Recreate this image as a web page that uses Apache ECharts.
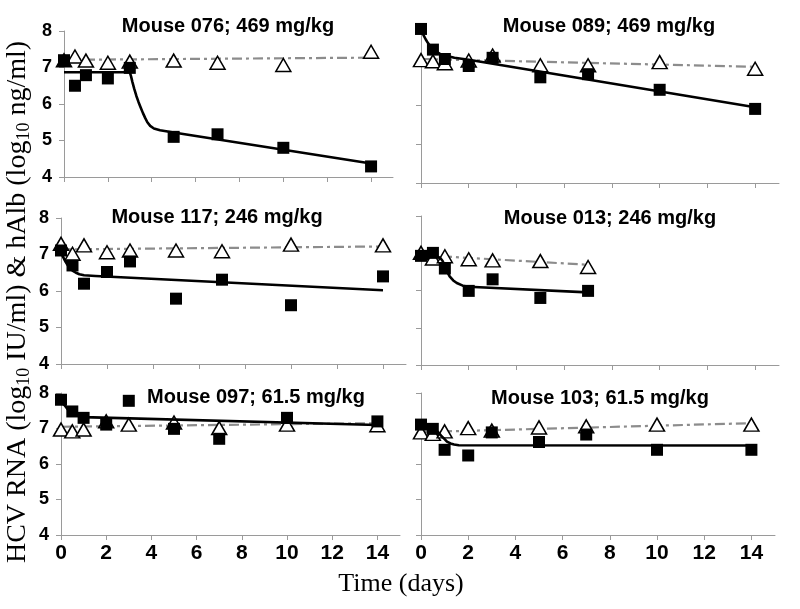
<!DOCTYPE html>
<html><head><meta charset="utf-8">
<script src="https://cdn.jsdelivr.net/npm/echarts@6/dist/echarts.min.js"></script>
<style>html,body{margin:0;padding:0;background:#fff}#c{width:800px;height:609px}</style>
</head><body><div id="c"></div>
<script>
// ---- data ----
const days = [0, 0.5, 1, 2, 3, 5, 7, 10, 14];
const days013 = [0, 0.5, 1, 2, 3, 5, 7];
const xTickLabels = [0, 2, 4, 6, 8, 10, 12, 14];
const yTickLabels = [4, 5, 6, 7, 8];
const titles = ['Mouse 076; 469 mg/kg', 'Mouse 089; 469 mg/kg', 'Mouse 117; 246 mg/kg',
                'Mouse 013; 246 mg/kg', 'Mouse 097; 61.5 mg/kg', 'Mouse 103; 61.5 mg/kg'];

const hcv076 = [7.2, 6.5, 6.79, 6.7, 6.99, 5.1, 5.17, 4.8, 4.29];
const alb076 = [7.2, 7.3, 7.19, 7.13, 7.16, 7.19, 7.13, 7.07, 7.43];
const fit076 = [[0,6.87],[3,6.87],[3.06,6.75],[3.12,6.6],[3.2,6.42],[3.3,6.22],[3.4,6.05],[3.5,5.9],[3.6,5.75],[3.7,5.62],[3.8,5.5],[3.93,5.4],[4.1,5.33],[4.38,5.28],[5,5.22],[14,4.37]];
const trend076 = [[0,7.21],[14,7.27]];

const hcv089 = [7.95, 7.42, 7.18, 7.0, 7.21, 6.71, 6.79, 6.39, 5.9];
const alb089 = [7.15, 7.12, 7.07, 7.14, 7.27, 7.02, 7.02, 7.1, 6.93];
const fit089 = [[0,7.95],[0.1,7.8],[0.2,7.68],[0.3,7.58],[0.4,7.5],[0.5,7.43],[0.6,7.38],[0.8,7.31],[1,7.27],[1.4,7.21],[2,7.16],[14,5.94]];
const trend089 = [[0,7.18],[14,6.98]];

const hcv117 = [7.11, 6.7, 6.2, 6.52, 6.81, 5.79, 6.31, 5.61, 6.4];
const alb117 = [7.29, 7.02, 7.25, 7.06, 7.11, 7.11, 7.09, 7.27, 7.25];
const fit117 = [[0,7.1],[0.05,7.0],[0.1,6.92],[0.2,6.8],[0.3,6.7],[0.4,6.62],[0.5,6.56],[0.65,6.5],[0.8,6.46],[1,6.43],[1.5,6.41],[14,6.02]];
const trend117 = [[0,7.14],[14,7.22]];

const hcv013 = [6.93, 7.01, 6.59, 5.99, 6.3, 5.8, 5.99];
const alb013 = [7.01, 6.86, 6.92, 6.84, 6.81, 6.79, 6.63];
const fit013 = [[0,6.96],[0.5,6.95],[0.8,6.88],[0.9,6.8],[1,6.66],[1.1,6.5],[1.2,6.38],[1.35,6.27],[1.5,6.2],[1.75,6.13],[2,6.1],[7,5.95]];
const trend013 = [[0,6.95],[7,6.69]];

const hcv097 = [7.81, 7.48, 7.3, 7.11, 7.78, 6.99, 6.71, 7.3, 7.2];
const alb097 = [6.97, 6.92, 6.97, 7.2, 7.11, 7.17, 7.01, 7.11, 7.09];
const fit097 = [[0,7.8],[0.1,7.7],[0.2,7.62],[0.3,7.54],[0.4,7.48],[0.5,7.43],[0.6,7.4],[0.8,7.35],[1,7.32],[14,7.1]];
const trend097 = [[0,7.05],[14,7.15]];

const hcv103 = [7.11, 6.99, 6.4, 6.24, 6.89, 6.62, 6.83, 6.4, 6.4];
const alb103 = [6.89, 6.85, 6.92, 7.01, 6.94, 7.03, 7.06, 7.11, 7.11];
const fit103 = [[0,7.1],[0.5,7.0],[0.65,6.94],[0.75,6.88],[0.85,6.8],[1,6.7],[1.1,6.63],[1.25,6.58],[1.4,6.55],[1.6,6.53],[14,6.52]];
const trend103 = [[0,6.9],[14,7.15]];

// ---- layout ----
const panels = [
  {grid:{left:64, top:31, width:329, height:146}, x:days,    hcv:hcv076, alb:alb076, fit:fit076, trend:trend076, t:[228,26]},
  {grid:{left:421,top:27, width:358, height:156}, x:days,    hcv:hcv089, alb:alb089, fit:fit089, trend:trend089, t:[609,26]},
  {grid:{left:61, top:218,width:345, height:146}, x:days,    hcv:hcv117, alb:alb117, fit:fit117, trend:trend117, t:[217,217]},
  {grid:{left:421,top:216,width:358, height:149}, x:days013, hcv:hcv013, alb:alb013, fit:fit013, trend:trend013, t:[610,218]},
  {grid:{left:61, top:393,width:339, height:142}, x:days,    hcv:hcv097, alb:alb097, fit:fit097, trend:trend097, t:[256,397]},
  {grid:{left:421,top:393,width:354, height:142}, x:days,    hcv:hcv103, alb:alb103, fit:fit103, trend:trend103, t:[600,398]}
];
const SANS = '"Liberation Sans", Arial, sans-serif';
const SERIF = '"Liberation Serif", "Times New Roman", serif';
const axisGray = '#9a9a9a';

const grid = [], xAxis = [], yAxis = [], series = [], graphic = [];
panels.forEach((p, i) => {
  grid.push(Object.assign({containLabel:false}, p.grid));
  const bottom = i >= 4, left = i % 2 === 0;
  xAxis.push({
    type:'value', gridIndex:i, min:0, max:15, interval:2,
    axisLine:{show:true, lineStyle:{color:axisGray, width:1}},
    axisTick:{show:true, inside:false, length:5, lineStyle:{color:axisGray}, customValues:xTickLabels},
    axisLabel:{show:bottom, customValues:xTickLabels, fontFamily:SANS, fontWeight:'bold', fontSize:21, color:'#000', margin:8},
    splitLine:{show:false}
  });
  yAxis.push({
    type:'value', gridIndex:i, min:4, max:8, interval:1,
    axisLine:{show:true, lineStyle:{color:axisGray, width:1}},
    axisTick:{show:true, inside:false, length:5, lineStyle:{color:axisGray}, customValues:yTickLabels},
    axisLabel:{show:left, customValues:yTickLabels, fontFamily:SANS, fontWeight:'bold', fontSize:18, color:'#000', margin:12},
    splitLine:{show:false}
  });
  series.push({
    type:'line', xAxisIndex:i, yAxisIndex:i, data:p.trend, symbol:'none', z:2,
    lineStyle:{color:'#8c8c8c', width:2.2, type:[10,4,3,4]}, silent:true
  });
  series.push({
    type:'scatter', xAxisIndex:i, yAxisIndex:i, z:3,
    data:p.x.map((d, k) => [d, p.alb[k]]),
    symbol:'triangle', symbolSize:[15,13],
    itemStyle:{color:'#fff', borderColor:'#000', borderWidth:1.5, opacity:1}
  });
  series.push({
    type:'line', xAxisIndex:i, yAxisIndex:i, data:p.fit, symbol:'none', z:4,
    smooth:false,
    lineStyle:{color:'#000', width:2.6, join:'round'}, silent:true
  });
  series.push({
    type:'scatter', xAxisIndex:i, yAxisIndex:i, z:5,
    data:p.x.map((d, k) => [d, p.hcv[k]]),
    symbol:'rect', symbolSize:12,
    itemStyle:{color:'#000', opacity:1}
  });
  graphic.push({
    type:'text', x:p.t[0], y:p.t[1], z:10,
    style:{text:titles[i], fill:'#000', font:'bold 20px ' + SANS, textAlign:'center', textVerticalAlign:'middle'}
  });
});

graphic.push({
  type:'text', x:18, y:302, rotation:Math.PI/2, z:10,
  style:{
    text:'{n|HCV RNA (log}{s|10}{n| IU/ml) & hAlb (log}{s|10}{n| ng/ml)}',
    textAlign:'center', textVerticalAlign:'middle', fill:'#000',
    rich:{
      n:{fontFamily:SERIF, fontSize:28, fill:'#000', lineHeight:30},
      s:{fontFamily:SERIF, fontSize:18, fill:'#000', verticalAlign:'bottom', lineHeight:30, padding:[8,0,0,0]}
    }
  }
});
graphic.push({
  type:'text', x:401, y:584, z:10,
  style:{text:'Time (days)', fill:'#000', font:'26px ' + SERIF, textAlign:'center', textVerticalAlign:'middle'}
});

const chart = echarts.init(document.getElementById('c'), null, {renderer:'canvas'});
chart.setOption({
  backgroundColor:'#fff', animation:false,
  grid, xAxis, yAxis, series, graphic
});
</script></body></html>
